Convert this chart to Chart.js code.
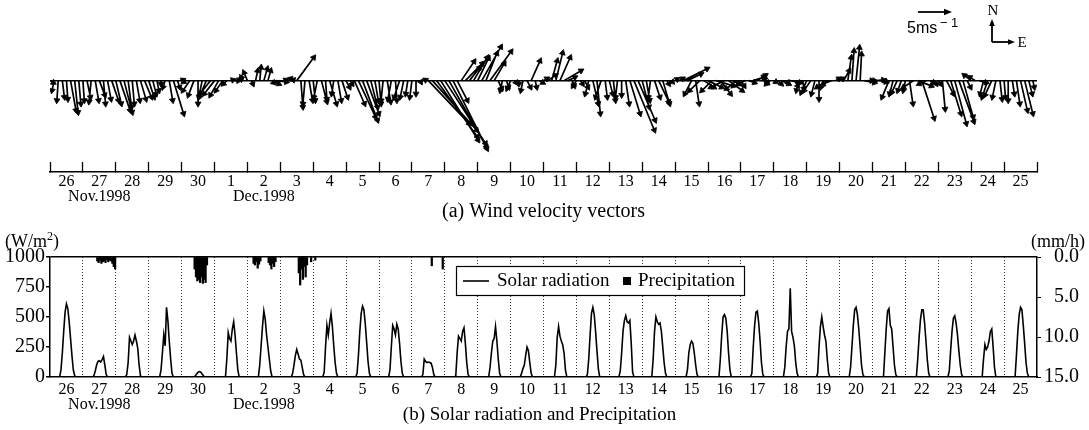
<!DOCTYPE html>
<html>
<head>
<meta charset="utf-8">
<script src="https://cdn.jsdelivr.net/npm/chart.js@4.4.1/dist/chart.umd.min.js"></script>
<style>
  body { margin: 0; background: #fff; }
  #wrap { position: relative; width: 1089px; height: 430px; }
  #top { position: absolute; left: 0; top: 0; width: 1089px; height: 225px; }
  #bot { position: absolute; left: 0; top: 225px; width: 1089px; height: 205px; }
</style>
</head>
<body>
<div id="wrap">
  <div id="top"><canvas id="wind"></canvas></div>
  <div id="bot"><canvas id="solar"></canvas></div>
</div>
<script>
// days shown on both time axes, 26 Nov - 25 Dec 1998
const dayLabels = ['26','27','28','29','30','1','2','3','4','5','6','7','8','9','10',
                   '11','12','13','14','15','16','17','18','19','20','21','22','23','24','25'];
const monthAt = [1, 6];
const monthNames = ['Nov.1998', 'Dec.1998'];

// wind vectors every 3 hours, east (u) and north (v) components in m/s, one row per day
const windHours = [0, 3, 6, 9, 12, 15, 18, 21];
const windU = [
  [0.5,-0.3,-0.2,0.3,0.2,0.8,0.5,0.3],
  [0.2,0.5,-0.3,0.5,0.8,0.3,0.5,1.0],
  [0.8,1.5,1.2,0.5,0.3,0.5,0.8,1.0],
  [0.8,0.5,0.3,0.0,-0.3,0.5,1.5,0.3],
  [0.2,-0.3,-1.0,-0.8,0.0,-0.5,-1.0,-1.5],
  [-1.5,-1.2,-1.0,-0.5,0.3,0.5,0.3,-0.3],
  [-0.5,0.2,0.3,0.2,0.5,0.4,1.0,1.5],
  [-1.0,0.2,0.3,0.1,2.5,0.3,-0.3,0.5],
  [0.3,-0.5,0.8,0.2,1.0,-0.3,0.5,0.8],
  [0.5,0.3,1.5,2.5,2.2,1.8,1.0,0.5],
  [0.3,-0.3,0.5,-0.5,0.2,-0.8,-0.5,-0.3],
  [-0.3,0.0,0.1,0.2,6.0,6.5,6.0,5.5],
  [6.0,5.5,5.0,1.5,1.9,2.5,1.5,2.0],
  [1.6,2.8,1.6,3.1,1.5,0.5,-0.3,0.3],
  [-0.5,0.2,0.0,-0.3,0.5,1.3,0.2,0.5],
  [0.5,1.2,0.8,1.0,1.5,2.5,1.0,0.3],
  [-0.5,0.3,0.5,-0.5,0.8,0.5,-0.8,0.3],
  [0.5,0.3,-0.3,0.0,0.5,1.5,3.0,2.5],
  [1.0,0.5,-0.3,0.8,1.5,1.0,0.3,0.2],
  [0.3,0.5,3.5,2.0,-1.0,0.5,-1.5,1.5],
  [2.0,-1.5,2.5,1.5,-2.0,2.0,1.0,-1.5],
  [0.5,-1.0,0.8,1.5,1.2,0.5,0.3,-0.5],
  [0.3,0.5,1.0,0.3,1.5,0.5,-0.3,0.2],
  [-0.8,-1.0,-0.5,0.0,-0.3,-1.5,-1.2,0.5],
  [0.5,0.8,0.5,0.3,0.5,0.2,1.5,0.5],
  [0.3,1.0,0.8,0.2,-1.0,-0.5,-0.8,-0.5],
  [-0.3,0.5,-1.5,2.0,1.8,-1.0,0.5,0.3],
  [0.3,0.4,1.0,1.5,1.7,2.2,1.5,0.5],
  [-1.0,-0.8,1.0,-0.5,-0.8,-1.0,-0.5,0.3],
  [0.2,0.0,0.3,0.5,1.0,1.2,0.5,0.2]
];
const windV = [
  [-0.3,-1.5,-3.0,-2.5,-2.8,-4.5,-4.8,-3.5],
  [-3.0,-2.5,-3.2,-3.0,-2.2,-3.5,-2.8,-3.0],
  [-3.5,-4.5,-4.8,-4.0,-3.5,-3.0,-2.8,-2.5],
  [-2.5,-2.0,-1.5,-0.5,-1.0,-3.0,-5.0,-1.0],
  [0.1,-0.2,-1.5,-2.2,-3.5,-2.5,-2.5,-2.0],
  [-2.0,-2.2,-1.5,-0.5,0.1,0.0,0.2,0.5],
  [1.2,-0.5,1.5,2.0,1.8,1.5,-0.5,-0.2],
  [-0.3,0.1,0.3,0.1,3.5,-4.0,-3.5,-3.0],
  [-3.0,-2.5,-3.2,-2.8,-3.5,-2.0,-3.0,-2.5],
  [-1.0,-0.5,-3.5,-5.5,-6.0,-5.0,-4.0,-3.0],
  [-3.5,-3.0,-3.2,-2.8,-3.0,-2.5,-2.5,-2.0],
  [-2.5,-2.0,-0.2,0.1,-6.5,-7.5,-8.5,-9.0],
  [-9.5,-10.0,-10.3,-3.0,2.9,2.6,2.0,3.5],
  [3.4,5.1,4.1,4.4,2.6,-1.2,-1.5,-1.0],
  [-1.2,-0.3,-0.5,-1.5,-1.0,3.0,-1.0,-0.3],
  [0.3,0.8,3.0,4.2,3.5,1.5,0.5,-0.8],
  [-0.8,-0.5,-1.0,-2.0,-3.5,-5.0,-2.5,-2.5],
  [-2.0,-3.0,-2.5,-2.2,-3.5,-5.0,-7.5,-6.0],
  [-4.0,-3.0,-2.5,-2.5,-3.2,-3.5,-0.5,-0.2],
  [0.2,0.3,1.8,1.0,-2.0,-3.5,-1.5,-1.0],
  [-1.0,-1.5,-0.8,-2.0,-1.0,-1.5,-0.5,-1.2],
  [-0.8,-0.5,-0.3,0.5,0.8,0.2,-0.3,-0.5],
  [-0.2,-0.5,-0.5,-0.3,-0.3,-0.8,-1.5,-1.2],
  [-1.8,-1.5,-2.0,-2.8,-1.0,-1.0,-0.5,0.3],
  [0.3,1.5,3.5,4.5,5.0,4.0,-0.3,0.0],
  [0.0,0.1,-0.2,-0.1,-2.5,-2.0,-1.8,-1.5],
  [-1.5,-3.5,-1.0,-0.8,-5.7,-0.5,-0.3,-0.5],
  [-0.5,-4.3,-2.0,-5.0,-6.5,-6.2,-5.5,-1.0],
  [0.8,0.5,-0.3,-2.0,-2.5,-2.2,-2.5,-2.8],
  [-2.5,-3.0,-2.0,-3.5,-4.5,-5.0,-2.0,-1.0]
];

// hourly solar radiation (W/m2) from 7h to 19h, one row per day (zero at night)
const solarHours = [7,8,9,10,11,12,13,14,15,16,17,18,19];
const solar = [
  [0,60,200,380,540,610,570,460,320,180,60,10,0],
  [0,10,50,100,130,135,125,145,170,100,20,0,0],
  [0,20,120,330,300,270,300,350,300,240,100,10,0],
  [0,0,60,200,350,260,580,470,300,150,30,0,0],
  [0,0,0,10,25,40,45,40,25,10,0,0,0],
  [0,0,150,370,320,300,400,460,350,200,60,0,0],
  [0,0,100,260,420,550,480,350,250,150,50,0,0],
  [0,0,30,100,180,230,190,150,140,80,20,0,0],
  [0,40,250,430,350,450,530,420,260,120,30,0,0],
  [0,30,180,380,530,590,560,440,290,130,30,0,0],
  [0,60,250,430,400,350,440,400,280,130,30,0,0],
  [0,20,150,130,120,125,120,115,80,20,0,0,0],
  [0,10,200,340,320,300,380,410,280,120,20,0,0],
  [0,0,80,200,300,320,420,300,150,30,0,0,0],
  [0,30,70,100,180,250,220,120,30,0,0,0,0],
  [0,0,100,330,420,340,300,270,200,60,0,0,0],
  [0,20,150,350,530,580,520,380,220,70,0,0,0],
  [0,50,200,380,470,510,460,450,470,280,40,0,0],
  [0,150,380,500,460,440,450,380,250,120,30,0,0],
  [0,0,60,200,270,300,280,200,100,20,0,0,0],
  [0,0,150,350,500,520,490,380,200,60,0,0,0],
  [0,30,250,430,540,550,450,300,120,20,0,0,0],
  [0,80,250,380,400,740,380,330,260,120,30,0,0],
  [0,30,250,420,500,420,350,300,150,30,0,0,0],
  [0,80,250,430,560,580,520,400,250,100,20,0,0],
  [0,0,200,400,550,570,430,400,250,100,20,0,0],
  [0,0,150,330,480,560,560,450,300,140,30,0,0],
  [0,50,220,380,490,510,450,350,220,100,20,0,0],
  [0,0,150,270,230,250,300,380,400,250,80,0,0],
  [0,0,180,380,520,580,560,430,280,120,30,0,0]
];

// hourly precipitation (mm/h), only for the days with rain
const rainDays = [1, 4, 6, 7, 8, 11];
const rainHours = [
  [10,11,12,13,14,15,16,17,18,19,20,21,22,23],
  [9,10,11,12,13,14,15,16,17,18],
  [4,5,6,7,8,9,15,16,17,18,19,20],
  [13,14,15,16,17,18,19,22],
  [1],
  [14,22]
];
const rainMm = [
  [0.5,0.7,0.4,0.8,0.6,0.5,0.7,0.3,0.6,0.4,0.5,0.8,1.2,1.5],
  [1.5,2.5,3.0,2.8,3.2,2.5,3.3,2.8,3.2,1.0],
  [0.8,1.0,0.6,1.4,0.9,0.5,0.7,1.0,1.5,0.8,1.2,0.6],
  [2.0,3.5,1.5,2.8,1.2,2.5,1.0,0.6],
  [0.4],
  [1.1,1.5]
];

const radTicks = [0, 250, 500, 750, 1000];
const rainTicks = [0, 5, 10, 15];

const SERIF = "'Liberation Serif', 'Times New Roman', serif";
const SANS = "'Liberation Sans', Arial, sans-serif";
const DAYS = dayLabels.length;
const PLOT_W = 987;          // width of both plot areas in px
const PX_PER_MS = 6.8;       // wind vector scale, px per m/s
const DAY_PER_MS = DAYS / PLOT_W * PX_PER_MS;

// ---- wind sticks and arrow heads ----
const sticks = [], heads = [], headAngles = [];
windU.forEach((row, d) => row.forEach((u, j) => {
  const v = windV[d][j];
  const t = d + windHours[j] / 24;
  sticks.push({x: t, y: 0}, {x: t + u * DAY_PER_MS, y: v}, {x: t, y: null});
  heads.push({x: t + u * DAY_PER_MS, y: v});
  headAngles.push(Math.atan2(u, v) * 180 / Math.PI);
}));

// ---- solar and rain series ----
const solarData = [];
solar.forEach((row, d) => row.forEach((w, j) => solarData.push({x: d + solarHours[j] / 24, y: w})));
const rainData = [];
rainDays.forEach((d, k) => rainHours[k].forEach((h, j) => rainData.push({x: d + (h + 0.5) / 24, y: rainMm[k][j]})));

// ticks at day boundaries (marks/grid) and day centres (labels)
function dayTicks(scale) {
  const t = [];
  for (let i = 0; i <= DAYS * 2; i++) t.push({value: i / 2});
  scale.ticks = t;
}
function dayLabel(v) {
  if (Number.isInteger(v)) return '';
  const i = Math.floor(v);
  const m = monthAt.indexOf(i);
  return m >= 0 ? [dayLabels[i], monthNames[m]] : dayLabels[i];
}
const clear = 'rgba(0,0,0,0)';
const tickVal = c => (c && c.tick ? c.tick.value : NaN);
const isBoundary = c => Number.isInteger(tickVal(c));

function arrow(ctx, x1, y1, x2, y2, head) {
  const a = Math.atan2(y2 - y1, x2 - x1);
  ctx.beginPath();
  ctx.moveTo(x1, y1);
  ctx.lineTo(x2 - Math.cos(a) * head * 0.8, y2 - Math.sin(a) * head * 0.8);
  ctx.stroke();
  ctx.beginPath();
  ctx.moveTo(x2, y2);
  ctx.lineTo(x2 - head * Math.cos(a) + head * 0.4 * Math.sin(a), y2 - head * Math.sin(a) - head * 0.4 * Math.cos(a));
  ctx.lineTo(x2 - head * Math.cos(a) - head * 0.4 * Math.sin(a), y2 - head * Math.sin(a) + head * 0.4 * Math.cos(a));
  ctx.closePath();
  ctx.fill();
}

// 5 m/s reference arrow and N/E compass
const windKey = {
  id: 'windKey',
  afterDraw(chart) {
    const ctx = chart.ctx;
    const xs = chart.scales.x;
    const len = xs.getPixelForValue(5 * DAY_PER_MS) - xs.getPixelForValue(0);
    ctx.save();
    ctx.strokeStyle = '#000';
    ctx.fillStyle = '#000';
    ctx.lineWidth = 1.8;
    arrow(ctx, 918, 12, 918 + len, 12, 8);
    ctx.font = '16px ' + SANS;
    ctx.textBaseline = 'alphabetic';
    ctx.fillText('5ms', 907, 33);
    ctx.font = '13px ' + SANS;
    ctx.fillText('\u2212', 940, 27);
    ctx.fillText('1', 951, 27);
    arrow(ctx, 992, 42, 992, 19, 7);
    arrow(ctx, 992, 42, 1015, 42, 7);
    ctx.font = '15px ' + SERIF;
    ctx.textAlign = 'center';
    ctx.textBaseline = 'middle';
    ctx.fillText('N', 993, 11);
    ctx.fillText('E', 1022, 43);
    ctx.restore();
  }
};

new Chart(document.getElementById('wind'), {
  type: 'line',
  data: {
    datasets: [
      {data: sticks, borderColor: '#000', borderWidth: 1.7, pointRadius: 0, spanGaps: false},
      {data: heads, showLine: false, pointStyle: 'triangle', pointRadius: 3.4,
       pointRotation: c => headAngles[c.dataIndex],
       pointBackgroundColor: '#000', pointBorderColor: '#000', pointBorderWidth: 0.8}
    ]
  },
  options: {
    animation: false,
    responsive: true,
    maintainAspectRatio: false,
    layout: {padding: {left: 50, right: 52, top: 0, bottom: 0}},
    plugins: {
      legend: {display: false},
      tooltip: {enabled: false},
      title: {display: true, position: 'bottom', text: '(a) Wind velocity vectors', color: '#000',
              font: {family: SERIF, size: 20, weight: 'normal', lineHeight: 1.2},
              padding: {top: -5, bottom: 1}}
    },
    scales: {
      x: {
        type: 'linear', min: 0, max: DAYS, offset: false,
        afterBuildTicks: dayTicks,
        afterFit: s => { s.height = 33; },
        grid: {offset: false, drawOnChartArea: false, drawTicks: true, tickLength: -10, tickWidth: 1.3,
               tickColor: c => isBoundary(c) ? '#000' : clear},
        border: {display: true, color: '#000', width: 1.5},
        ticks: {autoSkip: false, maxRotation: 0, padding: 12.5, color: '#000',
                font: {family: SERIF, size: 16, lineHeight: 0.94}, callback: dayLabel}
      },
      y: {
        min: -94 / PX_PER_MS, max: 78 / PX_PER_MS,
        afterBuildTicks: s => { s.ticks = [{value: 0}]; },
        afterFit: s => { s.width = 0; },
        grid: {color: '#000', lineWidth: 1.5, drawTicks: false},
        border: {display: false},
        ticks: {display: false}
      }
    }
  },
  plugins: [windKey]
});

// legend box and unit labels for the lower panel
const solarDecor = {
  id: 'solarDecor',
  afterDraw(chart) {
    const ctx = chart.ctx;
    const ds = chart.data.datasets;
    ctx.save();
    ctx.fillStyle = '#fff';
    ctx.fillRect(456, 41, 289, 29);
    ctx.strokeStyle = '#000';
    ctx.lineWidth = 1.2;
    ctx.strokeRect(456.5, 41.5, 288, 29);
    ctx.fillStyle = '#000';
    ctx.lineWidth = 1.6;
    ctx.beginPath();
    ctx.moveTo(463, 56);
    ctx.lineTo(489, 56);
    ctx.stroke();
    ctx.font = '19px ' + SERIF;
    ctx.textBaseline = 'middle';
    ctx.fillText(ds[0].label, 497, 56);
    ctx.fillRect(623, 52, 8, 8);
    ctx.fillText(ds[1].label, 638, 56);

    ctx.font = '18px ' + SERIF;
    ctx.fillText('(W/m', 5, 17);
    let w = ctx.measureText('(W/m').width;
    ctx.font = '12px ' + SERIF;
    ctx.fillText('2', 5 + w, 12);
    w += ctx.measureText('2').width;
    ctx.font = '18px ' + SERIF;
    ctx.fillText(')', 5 + w, 17);
    ctx.textAlign = 'right';
    ctx.fillText('(mm/h)', 1085, 17);
    ctx.restore();
  }
};

new Chart(document.getElementById('solar'), {
  type: 'line',
  data: {
    datasets: [
      {label: 'Solar radiation', data: solarData, yAxisID: 'y', borderColor: '#000', borderWidth: 1.6,
       pointRadius: 0, tension: 0},
      {type: 'bar', label: 'Precipitation', data: rainData, yAxisID: 'y1', backgroundColor: '#000',
       barThickness: 1.6}
    ]
  },
  options: {
    animation: false,
    responsive: true,
    maintainAspectRatio: false,
    layout: {padding: {top: 32, left: 0, right: 10, bottom: 0}},
    plugins: {
      legend: {display: false},
      tooltip: {enabled: false},
      title: {display: true, position: 'bottom', text: '(b) Solar radiation and Precipitation', color: '#000',
              font: {family: SERIF, size: 19, weight: 'normal', lineHeight: 1.2},
              padding: {top: -8.4, bottom: 3.6}}
    },
    scales: {
      x: {
        type: 'linear', min: 0, max: DAYS, offset: false,
        afterBuildTicks: dayTicks,
        afterFit: s => { s.height = 35; },
        grid: {offset: false, drawOnChartArea: true, drawTicks: false, lineWidth: 1, tickColor: clear,
               color: c => { const v = tickVal(c); return Number.isInteger(v) && v > 0 && v < DAYS ? '#333' : clear; }},
        border: {display: true, color: '#000', width: 1.5, dash: [1, 2]},
        ticks: {autoSkip: false, maxRotation: 0, padding: 5.5, color: '#000',
                font: {family: SERIF, size: 16, lineHeight: 0.94}, callback: dayLabel}
      },
      y: {
        position: 'left', min: 0, max: 1000,
        afterBuildTicks: s => { s.ticks = radTicks.map(v => ({value: v})); },
        afterFit: s => { s.width = 50; },
        grid: {drawOnChartArea: true, lineWidth: 1.5, drawTicks: true, tickLength: 4, tickColor: '#000',
               color: c => tickVal(c) === 1000 ? '#000' : clear},
        border: {display: true, color: '#000', width: 1.5},
        ticks: {padding: 1, color: '#000', font: {family: SERIF, size: 20}, callback: v => String(v)}
      },
      y1: {
        position: 'right', min: 0, max: 15, reverse: true,
        afterBuildTicks: s => { s.ticks = rainTicks.map(v => ({value: v})); },
        afterFit: s => { s.width = 42; },
        grid: {drawOnChartArea: false, drawTicks: true, tickLength: 4, tickColor: '#000', color: '#000'},
        border: {display: true, color: '#000', width: 1.5},
        ticks: {padding: 1, crossAlign: 'far', color: '#000', font: {family: SERIF, size: 20},
                callback: v => Number(v).toFixed(1)}
      }
    }
  },
  plugins: [solarDecor]
});
</script>
</body>
</html>
